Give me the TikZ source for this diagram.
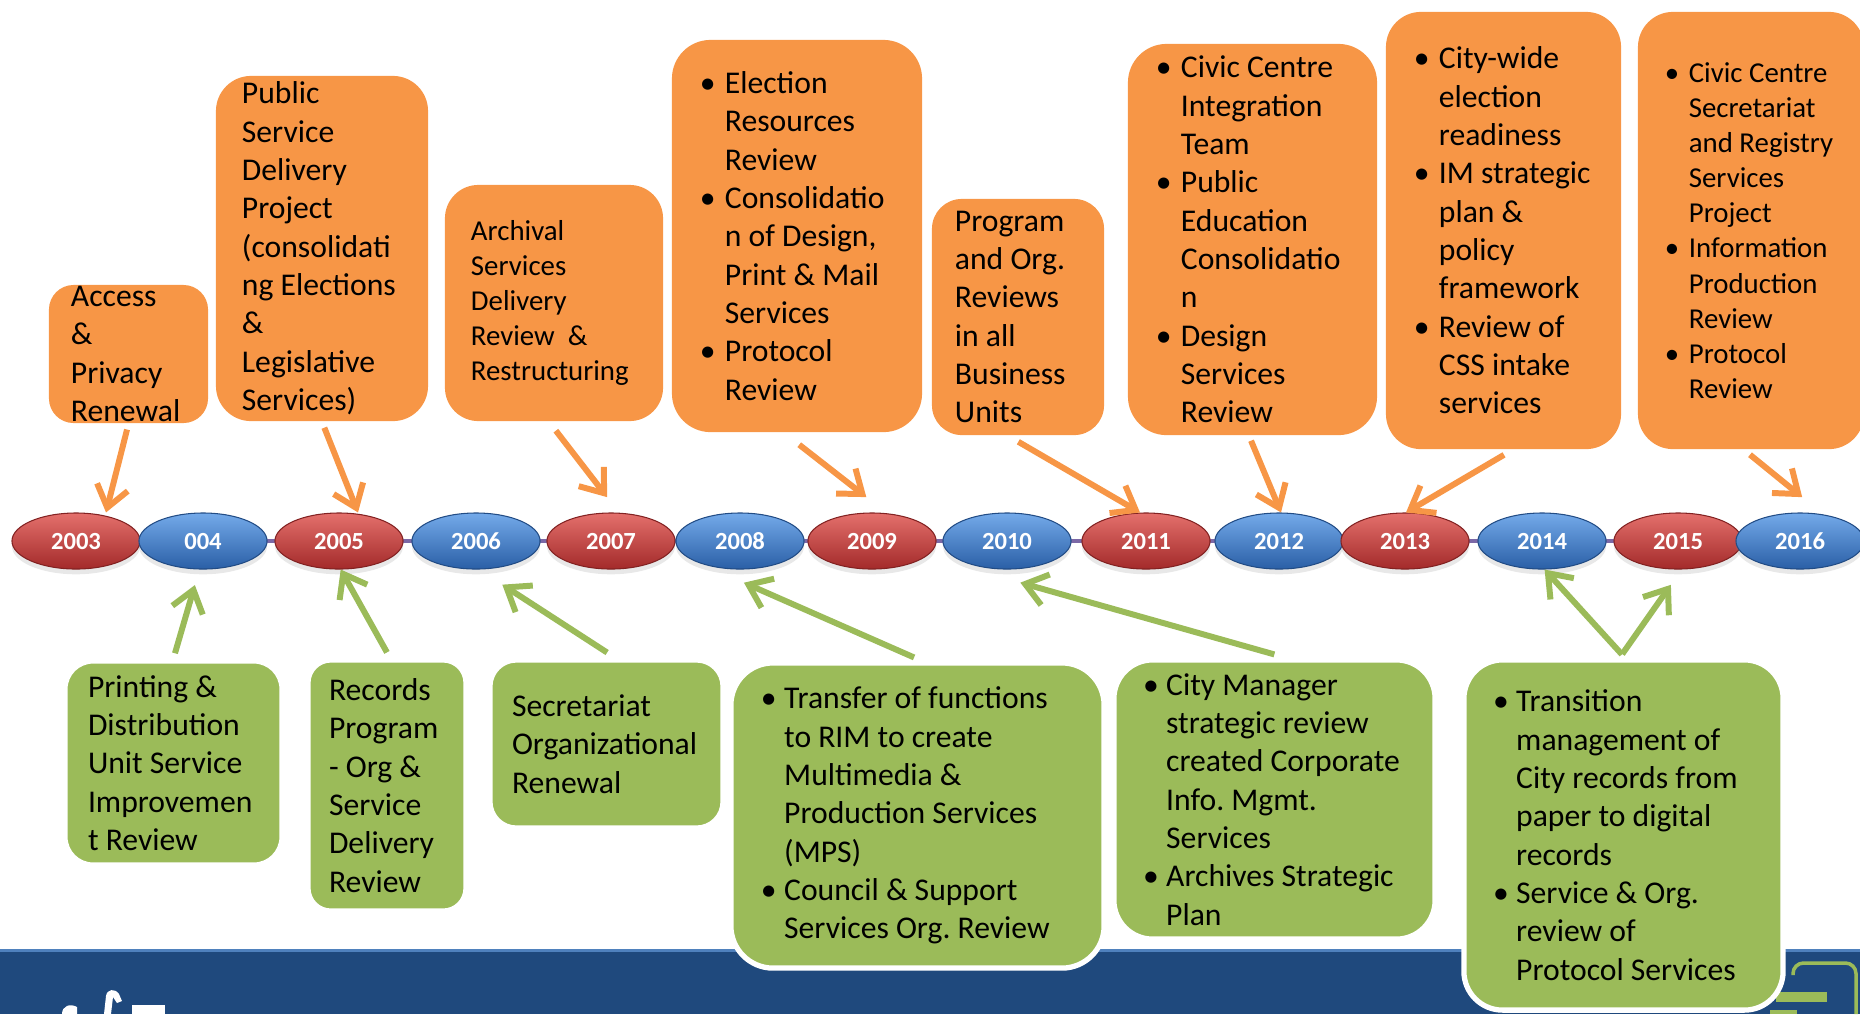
\documentclass[tikz,border=0pt]{standalone}
\usepackage{fontspec}
\setmainfont{Carlito}
\usetikzlibrary{shapes.geometric,arrows.meta,shadows,backgrounds}

\definecolor{boxorange}{HTML}{F79646}
\definecolor{boxgreen}{HTML}{9BBB59}
\definecolor{bandblue}{HTML}{1F497D}
\definecolor{bandline}{HTML}{4F81BD}
\definecolor{axispurple}{HTML}{7B68A6}
\definecolor{redtop}{HTML}{E4706C}
\definecolor{redmid}{HTML}{C8383A}
\definecolor{redbot}{HTML}{A32A2A}
\definecolor{bluetop}{HTML}{74AAEA}
\definecolor{bluemid}{HTML}{3D7CC9}
\definecolor{bluebot}{HTML}{2A5FA6}

\newlength{\bulw}
\newcommand{\bul}{\makebox[\bulw][l]{\textbullet}}
\newcommand{\bulskip}{\hspace*{\bulw}}

\tikzset{
  obox/.style={fill=boxorange, rounded corners=#1, inner sep=0pt},
  gbox/.style={fill=boxgreen, draw=white, line width=1.5pt, rounded corners=#1, inner sep=0pt},
  btext/.style={font=\fontsize{9}{10.9}\selectfont\frenchspacing\setlength{\bulw}{7.1pt}, align=left, inner sep=0pt, anchor=west},
  stext/.style={btext, font=\fontsize{8.2}{10}\selectfont\frenchspacing\setlength{\bulw}{6.8pt}},
  gtext/.style={btext, font=\fontsize{9}{10.9}\selectfont\frenchspacing\setlength{\bulw}{6.6pt}},
  yball/.style={ellipse, minimum width=1.28cm, minimum height=0.56cm, inner sep=0pt,
    text=white, font=\fontsize{7}{8}\selectfont\bfseries,
    drop shadow={shadow xshift=0pt, shadow yshift=-1.5pt, opacity=0.18}},
  rball/.style={yball, draw=redbot!80!black, line width=0.3pt,
    top color=redtop, middle color=redmid, bottom color=redbot},
  bball/.style={yball, draw=bluebot!80!black, line width=0.3pt,
    top color=bluetop, middle color=bluemid, bottom color=bluebot},
  oarr/.style={draw=boxorange, line width=1.7pt, -{Straight Barb[length=6pt,width=9pt]}},
  garr/.style={draw=boxgreen, line width=1.7pt, -{Straight Barb[length=6pt,width=9pt]}},
}

\begin{document}
\begin{tikzpicture}[x=0.01cm, y=-0.01cm]
  \useasboundingbox (0,0) rectangle (1860,1014);

  % Orange boxes above the timeline
  \node[obox=7pt, minimum width=1.59cm, minimum height=1.38cm,
    label={[btext, xshift=0.22cm]west:{Access\\ \&\\ Privacy\\ Renewal}}] (acc) at (128.5,354) {};
  \node[obox=10pt, minimum width=2.12cm, minimum height=3.45cm,
    label={[btext, xshift=0.26cm]west:{Public\\ Service\\ Delivery\\ Project\\ (consolidati\\ ng Elections\\ \&\\ Legislative\\ Services)}}] (pub) at (322,248.5) {};
  \node[obox=9.5pt, minimum width=2.18cm, minimum height=2.36cm,
    label={[stext, xshift=0.26cm]west:{Archival\\ Services\\ Delivery\\ Review~~\&\\ Restructuring}}] (arc) at (554,303) {};
  \node[obox=11pt, minimum width=2.50cm, minimum height=3.92cm,
    label={[btext, xshift=0.28cm]west:{\bul Election\\ \bulskip Resources\\ \bulskip Review\\ \bul Consolidatio\\ \bulskip n of Design,\\ \bulskip Print \& Mail\\ \bulskip Services\\ \bul Protocol\\ \bulskip Review}}] (ele) at (797,236) {};
  \node[obox=8.5pt, minimum width=1.72cm, minimum height=2.36cm,
    label={[btext, xshift=0.23cm]west:{Program\\ and Org.\\ Reviews\\ in all\\ Business\\ Units}}] (prg) at (1018,317) {};
  \node[obox=11pt, minimum width=2.49cm, minimum height=3.91cm,
    label={[btext, xshift=0.28cm]west:{\bul Civic Centre\\ \bulskip Integration\\ \bulskip Team\\ \bul Public\\ \bulskip Education\\ \bulskip Consolidatio\\ \bulskip n\\ \bul Design\\ \bulskip Services\\ \bulskip Review}}] (civ) at (1252.5,239.5) {};
  \node[obox=10pt, minimum width=2.35cm, minimum height=4.37cm,
    label={[btext, xshift=0.28cm]west:{\bul City-wide\\ \bulskip election\\ \bulskip readiness\\ \bul IM strategic\\ \bulskip plan \&\\ \bulskip policy\\ \bulskip framework\\ \bul Review of\\ \bulskip CSS intake\\ \bulskip services}}] (cty) at (1503.5,230.5) {};
  \node[obox=10pt, minimum width=2.26cm, minimum height=4.37cm,
    label={[stext, xshift=0.27cm]west:{\bul Civic Centre\\ \bulskip Secretariat\\ \bulskip and Registry\\ \bulskip Services\\ \bulskip Project\\ \bul Information\\ \bulskip Production\\ \bulskip Review\\ \bul Protocol\\ \bulskip Review}}] (csr) at (1751,230.5) {};

  % Timeline
  \foreach \px/\nm/\yr/\kind in {76/2003/2003/rball, 203/2004/004/bball, 339/2005/2005/rball,
      476/2006/2006/bball, 611/2007/2007/rball, 740/2008/2008/bball, 872/2009/2009/rball,
      1007/2010/2010/bball, 1146/2011/2011/rball, 1279/2012/2012/bball, 1405/2013/2013/rball,
      1542/2014/2014/bball, 1678/2015/2015/rball, 1800/2016/2016/bball}
    \node[\kind] (y\nm) at (\px,541) {\yr};
  \begin{pgfonlayer}{background}
    \draw[axispurple, line width=0.9pt] (y2003) -- (y2016);
  \end{pgfonlayer}

  % Bottom band and logos
  \fill[bandblue] (0,950) rectangle (1860,1014);
  \draw[bandline, line width=0.8pt] (0,950.5) -- (1860,950.5);
  \fill[white] (62,1014) .. controls (62,1006) and (70,1003) .. (77,1007) -- (77,1014) -- cycle;
  \fill[white] (104,1014) -- (106,996) .. controls (107,989) and (115,988) .. (119,994)
    -- (122,1001) -- (117,1003) -- (113,997) -- (111,1014) -- cycle;
  \fill[white] (132,1005) rectangle (165,1014);
  \draw[boxgreen, line width=1pt, rounded corners=3pt] (1793,975) -- (1793,963) -- (1856,963) -- (1856,1014);
  \fill[boxgreen] (1776,992) rectangle (1827,1002);
  \fill[boxgreen] (1770,1010) rectangle (1797,1014);

  % Green boxes below the timeline
  \node[gbox=8pt, minimum width=2.17cm, minimum height=2.04cm,
    label={[gtext, xshift=0.25cm]west:{Printing \&\\ Distribution\\ Unit Service\\ Improvemen\\ t Review}}] (prt) at (173.5,763) {};
  \node[gbox=6.5pt, minimum width=1.58cm, minimum height=2.51cm,
    label={[gtext, xshift=0.23cm]west:{Records\\ Program\\ - Org \&\\ Service\\ Delivery\\ Review}}] (rec) at (387,785.5) {};
  \node[gbox=7.5pt, minimum width=2.33cm, minimum height=1.68cm,
    label={[gtext, xshift=0.24cm]west:{Secretariat\\ Organizational\\ Renewal}}] (sec) at (606.5,744) {};
  \node[gbox=12pt, minimum width=3.73cm, minimum height=3.05cm,
    label={[gtext, xshift=0.32cm]west:{\bul Transfer of functions\\ \bulskip to RIM to create\\ \bulskip Multimedia \&\\ \bulskip Production Services\\ \bulskip (MPS)\\ \bul Council \& Support\\ \bulskip Services Org. Review}}] (trf) at (917.5,815.5) {};
  \node[gbox=11pt, minimum width=3.21cm, minimum height=2.79cm,
    label={[gtext, xshift=0.31cm]west:{\bul City Manager\\ \bulskip strategic review\\ \bulskip created Corporate\\ \bulskip Info. Mgmt.\\ \bulskip Services\\ \bul Archives Strategic\\ \bulskip Plan}}] (mgr) at (1274.5,799.5) {};
  \node[gbox=11pt, minimum width=3.19cm, minimum height=3.50cm,
    label={[gtext, xshift=0.31cm]west:{\bul Transition\\ \bulskip management of\\ \bulskip City records from\\ \bulskip paper to digital\\ \bulskip records\\ \bul Service \& Org.\\ \bulskip review of\\ \bulskip Protocol Services}}] (tra) at (1623.5,835) {};

  % Orange arrows down to the years
  \draw[oarr, shorten <=1.7pt] (acc.south) -- ([xshift=0.30cm]y2003.north);
  \draw[oarr, shorten <=1.8pt] (pub.south) -- ([xshift=0.19cm]y2005.north);
  \draw[oarr, shorten <=3.2pt, shorten >=5.5pt] ([xshift=-0.05cm]arc.south) -- ([xshift=0.08cm]y2007.north);
  \draw[oarr, shorten <=5.5pt, shorten >=7.1pt] ([xshift=-0.13cm]ele.south) -- ([xshift=0.14cm]y2009.north);
  \draw[oarr, shorten <=3.4pt] ([xshift=-0.10cm]prg.south) -- ([xshift=-0.06cm]y2011.north);
  \draw[oarr, shorten <=1.5pt] ([xshift=-0.035cm]civ.south) -- ([xshift=0.02cm]y2012.north);
  \draw[oarr, shorten <=2.8pt] ([xshift=0.09cm]cty.south) -- ([xshift=0.01cm]y2013.north);
  \draw[oarr, shorten <=2.2pt, shorten >=6.9pt] ([xshift=-0.07cm]csr.south) -- ([xshift=0.21cm]y2016.north);

  % Green arrows up to the years
  \draw[garr, shorten <=1.5pt, shorten >=4.6pt] (prt.north) -- ([xshift=-0.036cm]y2004.south);
  \draw[garr, shorten <=1.6pt] ([xshift=0.027cm]rec.north) -- ([xshift=0.017cm]y2005.south);
  \draw[garr, shorten <=2.5pt, shorten >=7.9pt] ([xshift=0.08cm]sec.north) -- ([xshift=0.03cm]y2006.south);
  \draw[garr, shorten <=2pt, shorten >=9.3pt] ([xshift=0.03cm]trf.north) -- ([xshift=-0.26cm]y2008.south);
  \draw[garr, shorten <=3pt, shorten >=13.7pt] ([xshift=0.10cm]mgr.north) -- ([xshift=-0.33cm]y2010.south);
  \draw[garr, shorten <=1.1pt] ([xshift=0.01cm]tra.north) -- ([xshift=0.026cm]y2014.south);
  \draw[garr, shorten <=1.1pt, shorten >=5.3pt] ([xshift=-0.035cm]tra.north) -- ([xshift=0.036cm]y2015.south);

\end{tikzpicture}
\end{document}
